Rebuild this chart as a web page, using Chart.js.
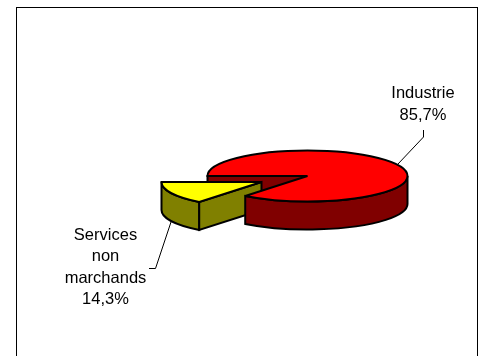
<!DOCTYPE html>
<html>
<head>
<meta charset="utf-8">
<title>Industrie / Services non marchands</title>
<script src="https://cdn.jsdelivr.net/npm/chart.js@4"></script>
<style>
  html, body { margin: 0; padding: 0; background: #ffffff; overflow: hidden; }
  canvas { display: block; }
</style>
</head>
<body>
<canvas id="myChart" width="482" height="356"></canvas>
<script>
const categories = ["Industrie", "Services non marchands"];
const shares = [85.7, 14.3];
const labelLines = [["Industrie"], ["Services", "non", "marchands"]];
const topColors = ["#ff0000", "#ffff00"];
const sideColors = ["#800000", "#808000"];

const TILT = 0.255;
const DEPTH = 28;
const EXPLODE = [{ x: 0, y: 0 }, { x: -46, y: 6 }];
const FONT = '16.5px "Liberation Sans", Arial, sans-serif';

const pct = (v) => v.toFixed(1).replace(".", ",") + "%";

// geometry of a slice, taken from the arc element chart.js laid out
const geom = (el, i) => {
  // chart.js keeps counting past a full turn after the first slice
  const turn = el.startAngle >= 2 * Math.PI ? 2 * Math.PI : 0;
  return {
    cx: el.x + EXPLODE[i].x,
    cy: el.y + EXPLODE[i].y,
    rx: el.outerRadius,
    ry: el.outerRadius * TILT,
    start: el.startAngle - turn,
    end: el.endAngle - turn,
  };
};

const paint = (ctx, fill) => {
  ctx.fillStyle = fill;
  ctx.fill();
  ctx.strokeStyle = "#000000";
  ctx.lineWidth = 2;
  ctx.lineJoin = "miter";
  ctx.miterLimit = 3;
  ctx.stroke();
};

const drawTop = (ctx, g, fill) => {
  ctx.beginPath();
  ctx.moveTo(g.cx, g.cy);
  ctx.ellipse(g.cx, g.cy, g.rx, g.ry, 0, g.start, g.end);
  ctx.closePath();
  paint(ctx, fill);
};

// cut face along the radius at the start angle of the slice
const drawCut = (ctx, g, fill) => {
  const x = g.cx + g.rx * Math.cos(g.start);
  const y = g.cy + g.ry * Math.sin(g.start);
  ctx.beginPath();
  ctx.moveTo(g.cx, g.cy);
  ctx.lineTo(x, y);
  ctx.lineTo(x, y + DEPTH);
  ctx.lineTo(g.cx, g.cy + DEPTH);
  ctx.closePath();
  paint(ctx, fill);
};

// outer wall, only the part facing the viewer
const drawWall = (ctx, g, fill) => {
  const a0 = g.end > 2 * Math.PI ? 2 * Math.PI : g.start;
  const a1 = Math.min(g.end, 3 * Math.PI);
  ctx.beginPath();
  ctx.ellipse(g.cx, g.cy, g.rx, g.ry, 0, a0, a1);
  ctx.ellipse(g.cx, g.cy + DEPTH, g.rx, g.ry, 0, a1, a0, true);
  ctx.closePath();
  paint(ctx, fill);
};

const drawLeader = (ctx, pts) => {
  ctx.beginPath();
  pts.forEach((p, i) => (i ? ctx.lineTo(p[0], p[1]) : ctx.moveTo(p[0], p[1])));
  ctx.strokeStyle = "#000000";
  ctx.lineWidth = 1;
  ctx.stroke();
};

const drawLabel = (ctx, lines, x, y, step) => {
  ctx.font = FONT;
  ctx.fillStyle = "#000000";
  ctx.textAlign = "center";
  ctx.textBaseline = "middle";
  lines.forEach((line, i) => ctx.fillText(line, x, y + i * step));
};

const pie3d = {
  id: "pie3d",
  beforeDatasetsDraw(chart) {
    const ctx = chart.ctx;
    const arcs = chart.getDatasetMeta(0).data;
    const big = geom(arcs[0], 0);
    const small = geom(arcs[1], 1);

    ctx.save();
    // frame
    ctx.strokeStyle = "#000000";
    ctx.lineWidth = 1;
    ctx.strokeRect(16.5, 7.5, 461, 360);

    drawLeader(ctx, [[398, 164], [423.5, 137], [423.5, 130]]);
    drawLeader(ctx, [[171, 222], [155.5, 268.5], [149, 268.5]]);

    drawCut(ctx, big, sideColors[0]);
    drawWall(ctx, small, sideColors[1]);
    drawCut(ctx, small, sideColors[1]);
    drawTop(ctx, small, topColors[1]);
    drawWall(ctx, big, sideColors[0]);
    drawTop(ctx, big, topColors[0]);

    drawLabel(ctx, [...labelLines[0], pct(shares[0])], 423, 93.5, 22);
    drawLabel(ctx, [...labelLines[1], pct(shares[1])], 105.5, 235.5, 21.4);
    ctx.restore();
    return false;
  },
};

new Chart(document.getElementById("myChart"), {
  type: "pie",
  data: {
    labels: categories,
    datasets: [{ data: shares, backgroundColor: topColors, borderWidth: 0 }],
  },
  options: {
    responsive: false,
    animation: false,
    rotation: 270,
    layout: { padding: { left: 207.5, right: 74.5, top: 76, bottom: 80 } },
    plugins: { legend: { display: false }, tooltip: { enabled: false } },
  },
  plugins: [pie3d],
});
</script>
</body>
</html>
